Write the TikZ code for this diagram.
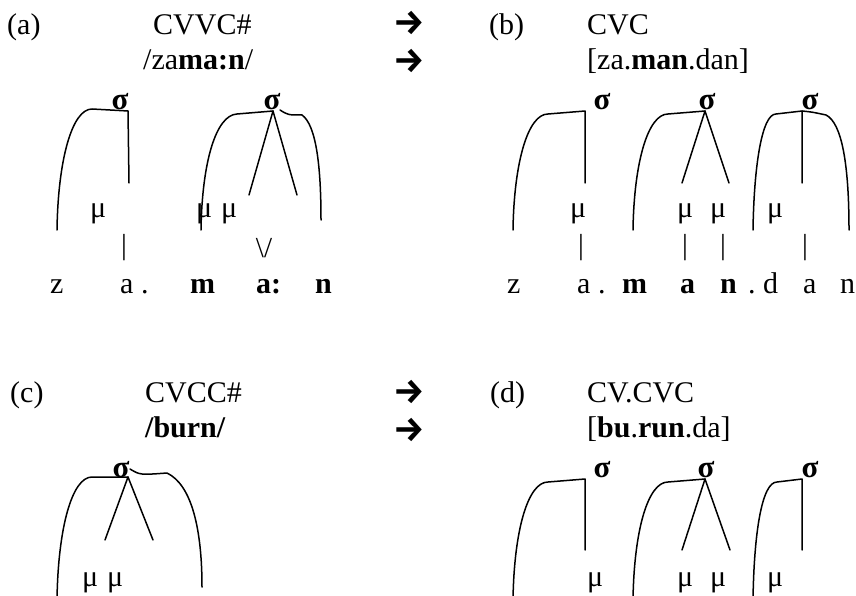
\documentclass[tikz,border=0pt]{standalone}
\usepackage{fontspec}
\setmainfont{Liberation Serif}
\newfontfamily\arrowfont{Fira Sans}
\begin{document}
\begin{tikzpicture}[x=1pt,y=-1pt,
  txt/.style={anchor=base west,inner sep=0pt,font=\fontsize{30}{36}\selectfont},
  sig/.style={anchor=base,inner sep=0pt,font=\fontsize{31}{36}\selectfont\bfseries},
  mu/.style={anchor=base west,inner sep=0pt,font=\fontsize{30}{36}\selectfont},
  bar/.style={inner sep=0pt,font=\fontsize{29}{36}\selectfont},
  arr/.style={inner sep=0pt,font=\arrowfont\bfseries\fontsize{35}{40}\selectfont},
  tree/.style={line width=1.5pt,line cap=round,line join=round},
]
\useasboundingbox (0,0) rectangle (856,596);

% ---------- headers ----------
\node[txt] (la) at (7,35) {(a)};
\node[txt] (ha1) at (153,35) {CVVC\#};
\node[arr] (ar1) at (409,23) {→};
\node[txt] (ha2) at (143,70) {/za\textbf{ma:n}/};
\node[arr] (ar2) at (409,61) {→};
\node[txt] (lb) at (489,35) {(b)};
\node[txt] (hb1) at (587,35) {CVC};
\node[txt] (hb2) at (587,70) {[za.\textbf{man}.dan]};

\node[txt] (lc) at (10,402) {(c)};
\node[txt] (hc1) at (145,402) {CVCC\#};
\node[arr] (ar3) at (409,392) {→};
\node[txt] (hc2) at (145,437) {\textbf{/burn/}};
\node[arr] (ar4) at (409,430) {→};
\node[txt] (ld) at (490,402) {(d)};
\node[txt] (hd1) at (587,402) {CV.CVC};
\node[txt] (hd2) at (587,437) {[\textbf{bu}.\textbf{run}.da]};

% ---------- sigmas ----------
\node[sig] (sa1) at (120,110) {σ};
\node[sig] (sa2) at (272,110) {σ};
\node[sig] (sb1) at (602,110) {σ};
\node[sig] (sb2) at (707,110) {σ};
\node[sig] (sb3) at (810,110) {σ};
\node[sig] (sc)  at (121,477) {σ};
\node[sig] (sd1) at (602,477) {σ};
\node[sig] (sd2) at (706,477) {σ};
\node[sig] (sd3) at (810,477) {σ};

% ---------- moras ----------
\node[mu] (ma1) at (90,217) {μ};
\node[mu] (ma2) at (196,217) {μ};
\node[mu] (ma3) at (221,217) {μ};
\node[mu] (mb1) at (570,217) {μ};
\node[mu] (mb2) at (677,217) {μ};
\node[mu] (mb3) at (710,217) {μ};
\node[mu] (mb4) at (767,217) {μ};
\node[mu] (mc1) at (82,586) {μ};
\node[mu] (mc2) at (107,586) {μ};
\node[mu] (md1) at (587,586) {μ};
\node[mu] (md2) at (677,586) {μ};
\node[mu] (md3) at (710,586) {μ};
\node[mu] (md4) at (767,586) {μ};

% ---------- association bars ----------
\node[bar] (ba1) at (124,248) {|};
\node[bar] (ba2) at (264,248) {\textbackslash/};
\node[bar] (bb1) at (581,248) {|};
\node[bar] (bb2) at (685,248) {|};
\node[bar] (bb3) at (723,248) {|};
\node[bar] (bb4) at (805,248) {|};

% ---------- segments ----------
\node[txt] (za) at (50,293) {z};
\node[txt] (aa) at (120,293) {a .};
\node[txt] (ma) at (190,293) {\textbf{m}};
\node[txt] (a2a) at (256,293) {\textbf{a:}};
\node[txt] (na) at (315,293) {\textbf{n}};

\node[txt] (zb) at (507,293) {z};
\node[txt] (ab) at (577,293) {a .};
\node[txt] (mbx) at (622,293) {\textbf{m}};
\node[txt] (a2b) at (680,293) {\textbf{a}};
\node[txt] (nb) at (720,293) {\textbf{n}};
\node[txt] (db) at (748,293) {.};
\node[txt] (ddb) at (763,293) {d};
\node[txt] (a3b) at (803,293) {a};
\node[txt] (n3b) at (840,293) {n};

% ---------- trees (a) ----------
\coordinate (a1b) at (57,230);
\coordinate (a1c) at (92,109);
\coordinate (a1t) at (128,111);
\coordinate (a1v) at (129,183);
\draw[tree] (a1b) .. controls (58,160) and (72,109) .. (a1c) -- (a1t) -- (a1v);

\coordinate (a2b) at (201,230);
\coordinate (a2c) at (237,114);
\coordinate (a2t) at (273,111);
\coordinate (a2l) at (249,195);
\coordinate (a2r) at (297,195);
\coordinate (a2s) at (280,110);
\coordinate (a2k) at (302,115);
\coordinate (a2e) at (321,220);
\draw[tree] (a2b) .. controls (202,162) and (216,115) .. (a2c) -- (a2t);
\draw[tree] (a2t) -- (a2l);
\draw[tree] (a2t) -- (a2r);
\draw[tree] (a2s) .. controls (288,115) .. (a2k) .. controls (316,125) and (321,165) .. (a2e);

% ---------- trees (b) ----------
\coordinate (b1b) at (513,230);
\coordinate (b1c) at (548,114);
\coordinate (b1t) at (585,111);
\coordinate (b1v) at (585,183);
\draw[tree] (b1b) .. controls (514,162) and (528,114) .. (b1c) -- (b1t) -- (b1v);

\coordinate (b2b) at (633,230);
\coordinate (b2c) at (668,114);
\coordinate (b2t) at (705,111);
\coordinate (b2l) at (682,183);
\coordinate (b2r) at (729,183);
\draw[tree] (b2b) .. controls (634,162) and (648,114) .. (b2c) -- (b2t);
\draw[tree] (b2t) -- (b2l);
\draw[tree] (b2t) -- (b2r);

\coordinate (b3b) at (753,230);
\coordinate (b3c) at (776,114);
\coordinate (b3t) at (802,111);
\coordinate (b3v) at (802,183);
\coordinate (b3k) at (826,115);
\coordinate (b3e) at (849,230);
\draw[tree] (b3b) .. controls (754,165) and (762,114) .. (b3c) -- (b3t) -- (b3v);
\draw[tree] (b3t) .. controls (812,112) .. (b3k) .. controls (842,123) and (849,165) .. (b3e);

% ---------- tree (c) ----------
\coordinate (cb) at (57,600);
\coordinate (cc) at (92,477);
\coordinate (ct) at (128,477);
\coordinate (cl) at (105,540);
\coordinate (cr) at (153,540);
\coordinate (cs) at (130,469);
\coordinate (ck) at (167,473);
\coordinate (ce) at (202,587);
\draw[tree] (cb) .. controls (58,528) and (72,477) .. (cc) -- (ct);
\draw[tree] (ct) -- (cl);
\draw[tree] (ct) -- (cr);
\draw[tree] (cs) .. controls (140,475) .. (ck) .. controls (192,485) and (202,530) .. (ce);

% ---------- trees (d) ----------
\coordinate (d1b) at (513,600);
\coordinate (d1c) at (548,482);
\coordinate (d1t) at (585,479);
\coordinate (d1v) at (585,550);
\draw[tree] (d1b) .. controls (514,530) and (528,482) .. (d1c) -- (d1t) -- (d1v);

\coordinate (d2b) at (633,600);
\coordinate (d2c) at (668,482);
\coordinate (d2t) at (705,479);
\coordinate (d2l) at (682,550);
\coordinate (d2r) at (730,550);
\draw[tree] (d2b) .. controls (634,530) and (648,482) .. (d2c) -- (d2t);
\draw[tree] (d2t) -- (d2l);
\draw[tree] (d2t) -- (d2r);

\coordinate (d3b) at (753,600);
\coordinate (d3c) at (777,482);
\coordinate (d3t) at (802,479);
\coordinate (d3v) at (802,550);
\draw[tree] (d3b) .. controls (754,532) and (762,482) .. (d3c) -- (d3t) -- (d3v);
\end{tikzpicture}
\end{document}
